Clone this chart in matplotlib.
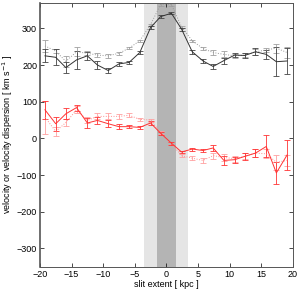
import numpy as np
import matplotlib
matplotlib.use("Agg")
import matplotlib.pyplot as plt

plt.rcParams["font.family"] = ["Liberation Sans", "DejaVu Sans"]
plt.rcParams["font.size"] = 6.5

# slit positions (kpc)
x = [-19.2, -17.5, -15.9, -14.2, -12.5, -10.9, -9.2, -7.5, -5.9, -4.2, -2.5, -0.9,
     0.8, 2.4, 4.1, 5.8, 7.4, 9.1, 10.8, 12.4, 14.1, 15.8, 17.4, 19.1]

# velocity dispersion, solid black
disp = [225, 221, 193, 214, 225, 200, 185, 203, 207, 234, 302, 332,
        341, 298, 236, 211, 196, 212, 227, 226, 236, 229, 209, 211]
disp_err = [18, 22, 15, 25, 10, 10, 8, 6, 5, 5, 4, 3,
            3, 4, 5, 5, 6, 8, 6, 6, 10, 12, 40, 35]

# velocity dispersion, dotted grey
disp2 = [252, 238, 210, 236, 232, 227, 225, 232, 246, 266, 310, 365,
         365, 304, 266, 245, 234, 229, 225, 227, 236, 241, 246, 234]
disp2_err = [17, 6, 15, 12, 6, 6, 5, 4, 3, 3, 3, 3,
             3, 3, 3, 4, 6, 8, 6, 6, 8, 6, 12, 15]

# velocity, solid red
vel = [78, 40, 67, 84, 42, 49, 40, 32, 32, 30, 42, 14,
       -13, -37, -29, -33, -26, -60, -58, -49, -40, -22, -94, -45]
vel_err = [25, 19, 15, 8, 14, 10, 9, 6, 5, 5, 5, 4,
           4, 4, 4, 5, 8, 12, 8, 10, 10, 30, 30, 40]

# velocity, dotted pink
vel2 = [58, 19, 43, 78, 49, 60, 60, 60, 63, 52, 50, 16,
        -14, -47, -54, -60, -47, -52, -55, -49, -40, -42, -65, -60]
vel2_err = [45, 12, 10, 10, 8, 8, 8, 6, 5, 4, 4, 4,
            4, 5, 5, 6, 8, 10, 8, 8, 10, 12, 20, 15]

fig = plt.figure(figsize=(3.0, 2.91), dpi=100)
ax = fig.add_axes([0.133, 0.083, 0.843, 0.908])

ax.axvspan(-3.5, 3.5, color="#e5e5e5", lw=0, zorder=0)
ax.axvspan(-1.5, 1.5, color="#b4b4b4", lw=0, zorder=0)

ax.errorbar(x, disp2, yerr=disp2_err, fmt=":", color="#9a9a9a", ecolor="#a0a0a0",
            lw=0.7, elinewidth=0.6, capsize=2, capthick=0.6)
ax.errorbar(x, disp, yerr=disp_err, fmt="-", color="#333333", ecolor="#444444",
            lw=0.7, elinewidth=0.6, capsize=2, capthick=0.6)
ax.errorbar(x, vel2, yerr=vel2_err, fmt=":", color="#ff9090", ecolor="#ffa0a0",
            lw=0.7, elinewidth=0.6, capsize=2, capthick=0.6)
ax.errorbar(x, vel, yerr=vel_err, fmt="-", color="#ff3333", ecolor="#ff3333",
            lw=0.7, elinewidth=0.6, capsize=2, capthick=0.6)

ax.set_xlim(-20, 20)
ax.set_ylim(-350, 370)
ax.set_xticks(np.arange(-20, 21, 5))
ax.set_yticks(np.arange(-300, 301, 100))
ax.tick_params(direction="in", length=3, width=0.5, top=True, right=True, pad=2)
for s in ax.spines.values():
    s.set_color("#555555")
    s.set_linewidth(0.7)
ax.spines["left"].set_linewidth(1.2)

ax.set_xlabel("slit extent [ kpc ]", labelpad=1)
ax.set_ylabel("velocity or velocity dispersion [ km s$^{-1}$ ]", labelpad=1)

fig.savefig("out.png", dpi=100)
